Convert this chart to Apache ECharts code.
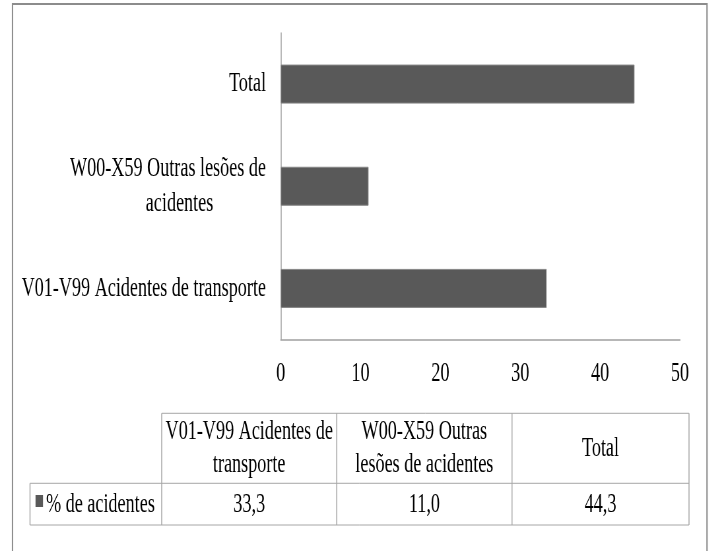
<!DOCTYPE html>
<html>
<head>
<meta charset="utf-8">
<script src="https://cdn.jsdelivr.net/npm/echarts@6/dist/echarts.min.js"></script>
<style>
  html, body { margin: 0; padding: 0; background: #ffffff; overflow: hidden; }
  #wrap { width: 714px; height: 551px; overflow: hidden; }
  /* narrow, condensed look: the chart is laid out wide and squeezed horizontally */
  #chart { height: 551px; transform-origin: 0 0; }
</style>
</head>
<body>
<div id="wrap"><div id="chart"></div></div>
<script>
// ---- data ----
const categories = ['V01-V99 Acidentes de transporte', 'W00-X59 Outras lesões de acidentes', 'Total'];
const axisLabelText = ['V01-V99 Acidentes de transporte', 'W00-X59 Outras lesões de\nacidentes', 'Total'];
const tableHeaderText = ['V01-V99 Acidentes de\ntransporte', 'W00-X59 Outras\nlesões de acidentes', 'Total'];
const seriesName = '% de acidentes';
const percentValues = [33.3, 11.0, 44.3];
const xTickLabels = ['0', '10', '20', '30', '40', '50'];

// ---- layout helpers (horizontal squeeze factor) ----
const SX = 0.66;
const PAGE_W = 714;
const CHART_W = Math.round(PAGE_W / SX);
const el = document.getElementById('chart');
el.style.width = CHART_W + 'px';
el.style.transform = 'scaleX(' + SX + ')';

const cx = x => x / SX;               // page x -> chart x
const FONT = '"Liberation Serif", "Times New Roman", serif';
const FS = 27.5;
const BAR_COLOR = '#595959';
const LINE_COLOR = '#a6a6a6';

const fmt = v => v.toFixed(1).replace('.', ',');

const chart = echarts.init(el);

// data table under the chart
const colX = [161.7, 336.7, 512, 689].map(cx);
const rowLeft = cx(30);
const yHeadTop = 413.3, yRowTop = 483.3, yBottom = 525;
const tableGraphics = [];
function hLine(x1, x2, y) {
  tableGraphics.push({ type: 'line', silent: true, shape: { x1, y1: y, x2, y2: y },
    style: { stroke: LINE_COLOR, lineWidth: 1 } });
}
function vLine(x, y1, y2) {
  tableGraphics.push({ type: 'line', silent: true, shape: { x1: x, y1, x2: x, y2 },
    style: { stroke: LINE_COLOR, lineWidth: 1.5 } });
}
hLine(colX[0], colX[3], yHeadTop);
hLine(rowLeft, colX[3], yRowTop);
hLine(rowLeft, colX[3], yBottom);
vLine(rowLeft, yRowTop, yBottom);
colX.forEach(x => vLine(x, yHeadTop, yBottom));

tableHeaderText.forEach((t, i) => {
  tableGraphics.push({ type: 'text', silent: true,
    style: { text: t, x: (colX[i] + colX[i + 1]) / 2, y: (yHeadTop + yRowTop) / 2,
      align: 'center', verticalAlign: 'middle', font: FS + 'px ' + FONT, lineHeight: 33, fill: '#000' } });
});
percentValues.forEach((v, i) => {
  tableGraphics.push({ type: 'text', silent: true,
    style: { text: fmt(v), x: (colX[i] + colX[i + 1]) / 2, y: (yRowTop + yBottom) / 2 + 1,
      align: 'center', verticalAlign: 'middle', font: FS + 'px ' + FONT, fill: '#000' } });
});
// legend key + series name in the row header
tableGraphics.push({ type: 'rect', silent: true,
  shape: { x: cx(35.5), y: 495, width: cx(7.5), height: 12 },
  style: { fill: BAR_COLOR } });
tableGraphics.push({ type: 'text', silent: true,
  style: { text: seriesName, x: cx(46), y: (yRowTop + yBottom) / 2 + 1,
    align: 'left', verticalAlign: 'middle', font: FS + 'px ' + FONT, fill: '#000' } });

// outer frame
tableGraphics.push({ type: 'rect', silent: true,
  shape: { x: cx(12.5), y: 4, width: cx(707) - cx(12.5), height: 580 },
  style: { fill: 'none', stroke: '#8c8c8c', lineWidth: 2 } });

chart.setOption({
  animation: false,
  backgroundColor: '#ffffff',
  grid: {
    left: cx(280.7),
    right: CHART_W - cx(680),
    top: 33,
    bottom: 551 - 339.5,
    containLabel: false,
    outerBoundsMode: 'none'
  },
  xAxis: {
    type: 'value',
    min: 0,
    max: 50,
    interval: 10,
    splitLine: { show: false },
    axisTick: { show: false },
    axisLine: { show: true, lineStyle: { color: '#a0a0a0', width: 1.5 } },
    axisLabel: {
      margin: 20,
      fontFamily: FONT,
      fontSize: FS,
      color: '#000',
      formatter: (v) => xTickLabels[Math.round(v / 10)] ?? String(v)
    }
  },
  yAxis: {
    type: 'category',
    data: categories,
    axisTick: { show: false },
    axisLine: { show: true, lineStyle: { color: '#a0a0a0', width: 1.5 } },
    splitLine: { show: false },
    axisLabel: {
      margin: cx(280.7 - 266),
      fontFamily: FONT,
      fontSize: FS,
      color: '#000',
      formatter: (value, index) => {
        const lines = axisLabelText[index].split('\n');
        if (lines.length === 1) return '{a|' + lines[0] + '}';
        return '{a|' + lines[0] + '}\n{b|' + lines[1] + '}';
      },
      rich: {
        a: { fontFamily: FONT, fontSize: FS, color: '#000', lineHeight: 35 },
        b: { fontFamily: FONT, fontSize: FS, color: '#000', lineHeight: 35, align: 'center', padding: [0, 0, 0, 35] }
      }
    }
  },
  series: [{
    name: seriesName,
    type: 'bar',
    data: percentValues,
    barWidth: 39,
    itemStyle: { color: BAR_COLOR, borderColor: '#858585', borderWidth: 1 }
  }],
  graphic: tableGraphics
});
</script>
</body>
</html>
